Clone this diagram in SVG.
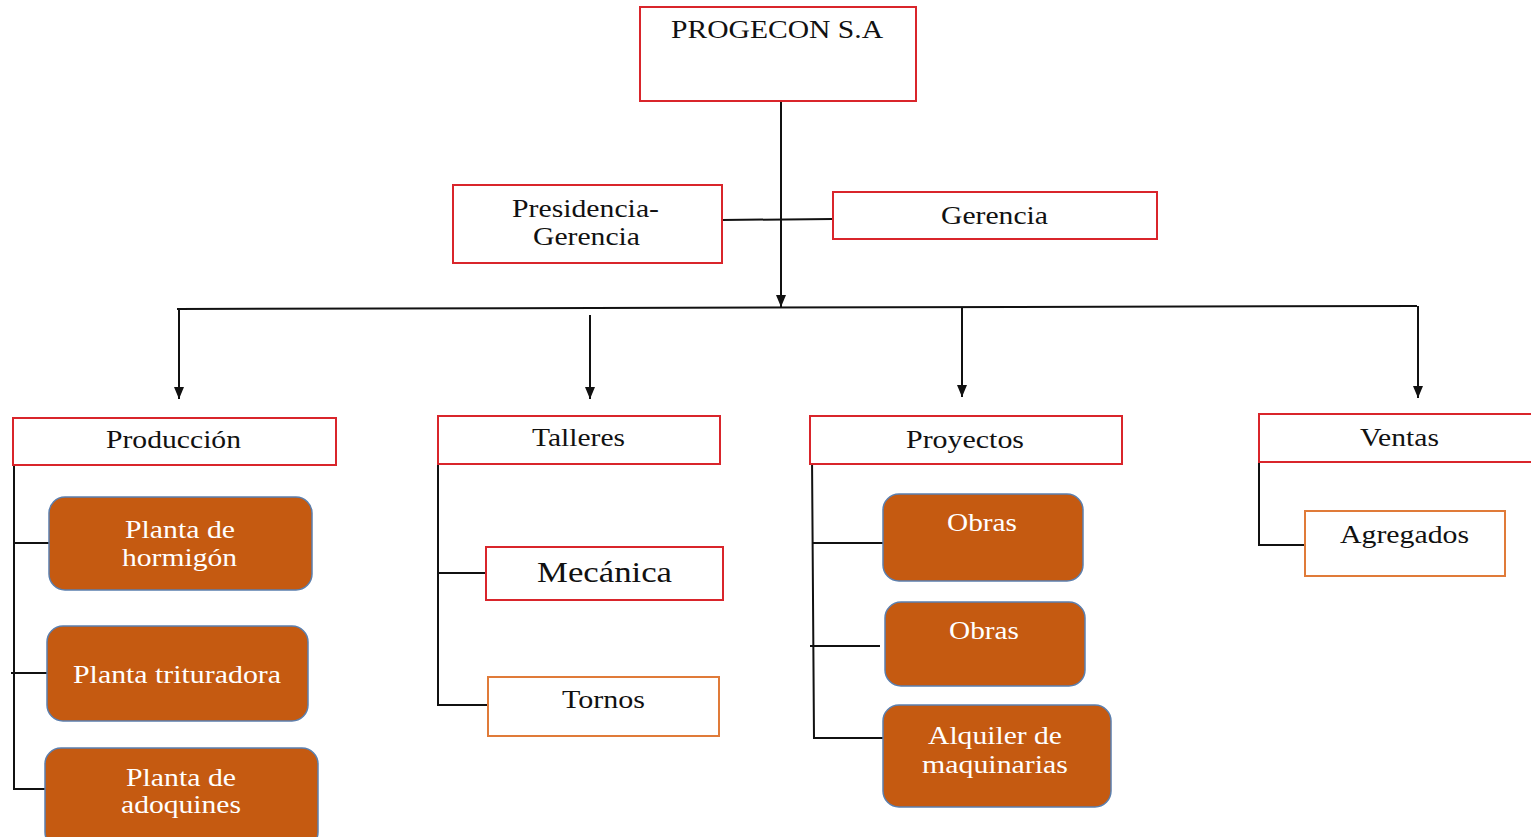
<svg xmlns="http://www.w3.org/2000/svg" width="1531" height="837" viewBox="0 0 1531 837">
<style>
.box{fill:#ffffff;stroke:#d9252b;stroke-width:2}
.obox{fill:#ffffff;stroke:#e07b39;stroke-width:2}
.rbox{fill:#c55a11;stroke:#5b7fae;stroke-width:1.5}
.t{font-family:"Liberation Serif","Times New Roman",serif;font-size:26px;fill:#111111}
.w{font-family:"Liberation Serif","Times New Roman",serif;font-size:26px;fill:#ffffff}
.ln{stroke:#111111;stroke-width:2;fill:none}
</style>
<defs>
<marker id="ah" markerWidth="10" markerHeight="12" refX="5" refY="12" orient="auto-start-reverse" markerUnits="userSpaceOnUse" viewBox="0 0 10 12">
<path d="M0,0 L10,0 L5,12 Z" fill="#111111" transform="rotate(0)"/>
</marker>
</defs>
<rect width="1531" height="837" fill="#ffffff"/>
<g id="connectors">
<line class="ln" x1="781" y1="101" x2="781" y2="307"/>
<path d="M776,295 L786,295 L781,307 Z" fill="#111"/>
<line class="ln" x1="722" y1="220" x2="833" y2="219"/>
<line class="ln" x1="177" y1="309" x2="1417" y2="306"/>
<line class="ln" x1="179" y1="310" x2="179" y2="399"/>
<path d="M174,387 L184,387 L179,399 Z" fill="#111"/>
<line class="ln" x1="590" y1="315" x2="590" y2="399"/>
<path d="M585,387 L595,387 L590,399 Z" fill="#111"/>
<line class="ln" x1="962" y1="308" x2="962" y2="397"/>
<path d="M957,385 L967,385 L962,397 Z" fill="#111"/>
<line class="ln" x1="1418" y1="306" x2="1418" y2="398"/>
<path d="M1413,386 L1423,386 L1418,398 Z" fill="#111"/>
<polyline class="ln" points="14,462 14,789 45,789"/>
<line class="ln" x1="14" y1="543" x2="49" y2="543"/>
<line class="ln" x1="11" y1="673" x2="47" y2="673"/>
<polyline class="ln" points="438,462 438,705 488,705"/>
<line class="ln" x1="438" y1="573" x2="486" y2="573"/>
<polyline class="ln" points="812,456 814,738 883,738"/>
<line class="ln" x1="813" y1="543" x2="883" y2="543"/>
<line class="ln" x1="810" y1="646" x2="880" y2="646"/>
<polyline class="ln" points="1259,460 1259,545 1305,545"/>
</g>
<g id="progecon">
<rect class="box" x="640" y="7" width="276" height="94"/>
<text class="t" x="671" y="38" textLength="212" lengthAdjust="spacingAndGlyphs">PROGECON S.A</text>
</g>
<g id="presidencia">
<rect class="box" x="453" y="185" width="269" height="78"/>
<text class="t" x="512" y="217" textLength="147" lengthAdjust="spacingAndGlyphs">Presidencia-</text>
<text class="t" x="533" y="245" textLength="107" lengthAdjust="spacingAndGlyphs">Gerencia</text>
</g>
<g id="gerencia">
<rect class="box" x="833" y="192" width="324" height="47"/>
<text class="t" x="941" y="224" textLength="107" lengthAdjust="spacingAndGlyphs">Gerencia</text>
</g>
<g id="produccion">
<rect class="box" x="13" y="418" width="323" height="47"/>
<text class="t" x="106" y="448" textLength="135" lengthAdjust="spacingAndGlyphs">Producción</text>
</g>
<g id="talleres">
<rect class="box" x="438" y="416" width="282" height="48"/>
<text class="t" x="532" y="446" textLength="93" lengthAdjust="spacingAndGlyphs">Talleres</text>
</g>
<g id="proyectos">
<rect class="box" x="810" y="416" width="312" height="48"/>
<text class="t" x="906" y="448" textLength="118" lengthAdjust="spacingAndGlyphs">Proyectos</text>
</g>
<g id="ventas">
<rect class="box" x="1259" y="414" width="280" height="48"/>
<text class="t" x="1360" y="446" textLength="79" lengthAdjust="spacingAndGlyphs">Ventas</text>
</g>
<g id="hormigon">
<rect class="rbox" x="49" y="497" width="263" height="93" rx="16"/>
<text class="w" x="125" y="538" textLength="110" lengthAdjust="spacingAndGlyphs">Planta de</text>
<text class="w" x="122" y="566" textLength="115" lengthAdjust="spacingAndGlyphs">hormigón</text>
</g>
<g id="trituradora">
<rect class="rbox" x="47" y="626" width="261" height="95" rx="16"/>
<text class="w" x="73" y="683" textLength="208" lengthAdjust="spacingAndGlyphs">Planta trituradora</text>
</g>
<g id="adoquines">
<rect class="rbox" x="45" y="748" width="273" height="100" rx="16"/>
<text class="w" x="126" y="786" textLength="110" lengthAdjust="spacingAndGlyphs">Planta de</text>
<text class="w" x="121" y="813" textLength="120" lengthAdjust="spacingAndGlyphs">adoquines</text>
</g>
<g id="mecanica">
<rect class="box" x="486" y="547" width="237" height="53"/>
<text class="t" x="537" y="582" style="font-size:30px" textLength="135" lengthAdjust="spacingAndGlyphs">Mecánica</text>
</g>
<g id="tornos">
<rect class="obox" x="488" y="677" width="231" height="59"/>
<text class="t" x="562" y="708" textLength="83" lengthAdjust="spacingAndGlyphs">Tornos</text>
</g>
<g id="obras1">
<rect class="rbox" x="883" y="494" width="200" height="87" rx="16"/>
<text class="w" x="947" y="531" textLength="70" lengthAdjust="spacingAndGlyphs">Obras</text>
</g>
<g id="obras2">
<rect class="rbox" x="885" y="602" width="200" height="84" rx="16"/>
<text class="w" x="949" y="639" textLength="70" lengthAdjust="spacingAndGlyphs">Obras</text>
</g>
<g id="alquiler">
<rect class="rbox" x="883" y="705" width="228" height="102" rx="16"/>
<text class="w" x="928" y="744" textLength="134" lengthAdjust="spacingAndGlyphs">Alquiler de</text>
<text class="w" x="922" y="773" textLength="146" lengthAdjust="spacingAndGlyphs">maquinarias</text>
</g>
<g id="agregados">
<rect class="obox" x="1305" y="511" width="200" height="65"/>
<text class="t" x="1340" y="543" textLength="129" lengthAdjust="spacingAndGlyphs">Agregados</text>
</g>
</svg>
